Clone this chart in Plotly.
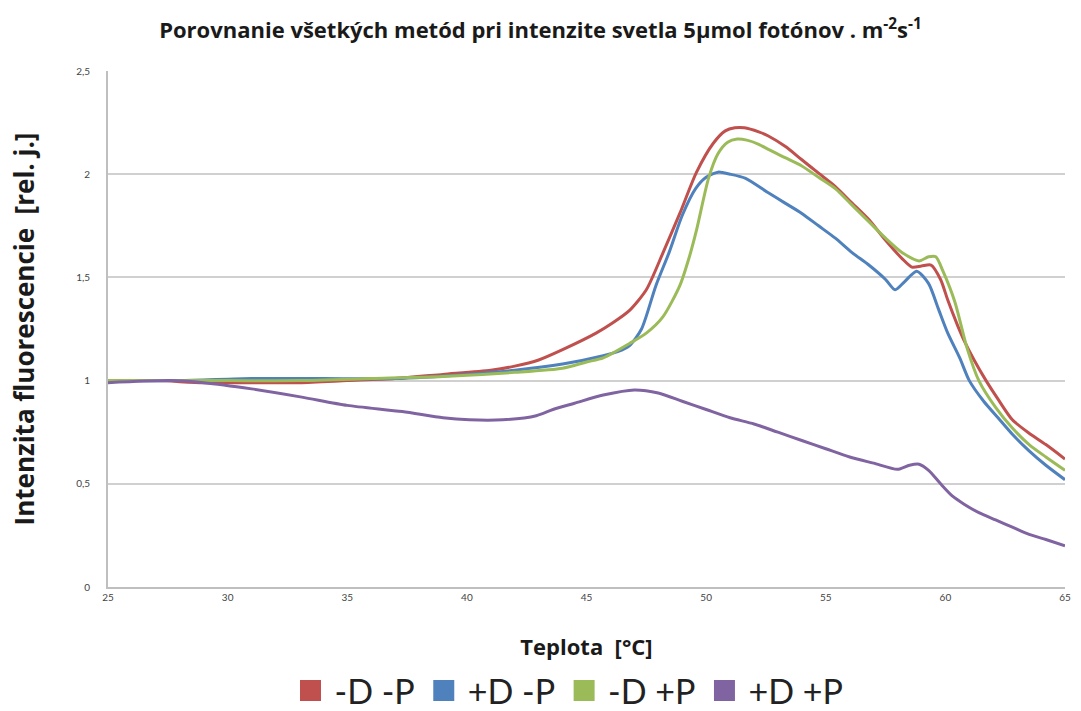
import plotly.graph_objects as go

# Temperature (°C) and relative fluorescence for each treatment
t_dp = [25, 27, 29, 31, 33, 35, 37, 39, 41, 42, 43, 44, 45.4, 46.1, 46.8, 47.5, 48.2, 48.9, 49.6,
        50.3, 50.8, 51.2, 51.6, 52.2, 52.6, 53.3, 54.0, 54.7, 55.4, 56.1, 56.8, 57.5, 58.2, 58.6,
        59.0, 59.4, 59.8, 60.1, 60.5, 60.8, 61.2, 61.7, 62.2, 62.8, 63.5, 64.2, 65.0]
v_dp = [1.0, 1.0, 0.99, 0.99, 0.99, 1.0, 1.01, 1.03, 1.05, 1.07, 1.10, 1.15, 1.23, 1.28, 1.34,
        1.44, 1.62, 1.81, 2.01, 2.15, 2.21, 2.225, 2.225, 2.205, 2.185, 2.135, 2.07, 2.005, 1.94,
        1.86, 1.78, 1.68, 1.59, 1.55, 1.555, 1.56, 1.49, 1.39, 1.27, 1.19, 1.10, 1.0, 0.91, 0.81,
        0.745, 0.69, 0.62]

t_Dp = [25, 28, 31, 34, 37, 40, 42, 44, 45.7, 46.3, 46.8, 47.3, 47.9, 48.45, 49.0, 49.56, 50.0,
        50.5, 51.0, 51.65, 52.6, 53.3, 54.0, 54.7, 55.4, 56.1, 56.8, 57.5, 57.9, 58.3, 58.8, 59.3,
        59.7, 60.1, 60.6, 61.0, 61.6, 62.2, 62.8, 63.5, 64.2, 65.0]
v_Dp = [1.0, 1.0, 1.01, 1.01, 1.01, 1.03, 1.05, 1.08, 1.12, 1.14, 1.17, 1.25, 1.46, 1.62, 1.80,
        1.93, 1.985, 2.01, 2.0, 1.98, 1.91, 1.86, 1.81, 1.75, 1.69, 1.62, 1.56, 1.49, 1.44, 1.48,
        1.53, 1.47, 1.35, 1.23, 1.11, 1.0, 0.90, 0.82, 0.74, 0.66, 0.59, 0.52]

t_dP = [25, 27, 30, 33, 36, 39, 42, 44, 45, 45.7, 46.8, 47.5, 48.2, 48.9, 49.3, 49.6, 50.1, 50.5,
        50.9, 51.3, 51.7, 52.2, 52.6, 53.3, 54.0, 54.7, 55.4, 56.1, 56.8, 57.5, 58.2, 58.9, 59.3,
        59.6, 59.9, 60.4, 60.9, 61.4, 62.1, 62.8, 63.5, 64.2, 65.0]
v_dP = [1.0, 1.0, 1.0, 1.0, 1.01, 1.02, 1.04, 1.06, 1.09, 1.11, 1.18, 1.23, 1.31, 1.46, 1.60,
        1.73, 1.98, 2.10, 2.155, 2.17, 2.165, 2.145, 2.12, 2.08, 2.04, 1.985, 1.93, 1.85, 1.77,
        1.69, 1.62, 1.58, 1.60, 1.60, 1.53, 1.38, 1.16, 1.0, 0.87, 0.77, 0.69, 0.63, 0.565]

t_DP = [25, 27.6, 29, 31, 33.1, 35, 37.3, 39, 40.1, 41.5, 42.9, 43.6, 44.5, 45.7, 47.0, 48, 49, 50,
        51, 52, 53, 54, 55, 56, 57, 58.0, 58.5, 58.9, 59.3, 59.8, 60.3, 60.8, 61.4, 62.1, 62.8,
        63.5, 64.2, 65]
v_DP = [0.99, 1.0, 0.99, 0.96, 0.92, 0.88, 0.85, 0.82, 0.81, 0.81, 0.83, 0.86, 0.89, 0.93, 0.955,
        0.94, 0.90, 0.86, 0.82, 0.79, 0.75, 0.71, 0.67, 0.63, 0.60, 0.57, 0.59, 0.595, 0.565, 0.50,
        0.44, 0.40, 0.36, 0.325, 0.29, 0.255, 0.23, 0.20]

series_names = ["-D -P", "+D -P", "-D +P", "+D +P"]
series_colors = ["#C0504D", "#4F81BD", "#9BBB59", "#8064A2"]
series_data = [(t_dp, v_dp), (t_Dp, v_Dp), (t_dP, v_dP), (t_DP, v_DP)]

x_ticks = [25, 30, 35, 40, 45, 50, 55, 60, 65]
y_ticks = [0, 0.5, 1, 1.5, 2, 2.5]
y_tick_text = ["0", "0,5", "1", "1,5", "2", "2,5"]

fig = go.Figure()
for name, color, (t, v) in zip(series_names, series_colors, series_data):
    fig.add_trace(go.Scatter(x=t, y=v, mode="lines", name=name, showlegend=False,
                             line=dict(color=color, width=3, shape="spline", smoothing=0.7)))
# square legend swatches
for name, color in zip(series_names, series_colors):
    fig.add_trace(go.Scatter(x=[None], y=[None], mode="markers", name=name,
                             marker=dict(symbol="square", size=16, color=color,
                                         line=dict(color=color, width=5))))

title_font = "'Open Sans', Lato, sans-serif"
fig.update_layout(
    width=1081, height=711,
    margin=dict(l=108, r=16, t=71, b=124, autoexpand=False),
    paper_bgcolor="white", plot_bgcolor="white",
    title=dict(text="Porovnanie všetkých metód pri intenzite svetla 5µmol fotónov . m<sup>-2</sup>s<sup>-1</sup>",
               x=0.5, xref="container", y=0.957, yanchor="middle",
               font=dict(family=title_font, size=22, color="#1a1a1a", weight="bold")),
    font=dict(family="Lato, sans-serif"),
    legend=dict(orientation="h", x=0.525, xanchor="center", xref="container",
                y=-0.145, yanchor="top", yref="paper",
                font=dict(family="Lato, sans-serif", size=34, color="#222"),
                itemsizing="trace", itemwidth=38, tracegroupgap=0),
    showlegend=True,
)
fig.update_xaxes(range=[25, 65], tickvals=x_ticks, showgrid=False, zeroline=False,
                 showline=True, linecolor="#BFBFBF", linewidth=2,
                 ticks="", tickfont=dict(size=10, color="#444"),
                 title=dict(text="Teplota  [°C]", standoff=38,
                            font=dict(family=title_font, size=22, color="#1a1a1a", weight="bold")))
fig.update_yaxes(range=[0, 2.5], tickvals=y_ticks, ticktext=y_tick_text,
                 showgrid=True, gridcolor="#D0D0D0", gridwidth=2, zeroline=False,
                 showline=True, linecolor="#BFBFBF", linewidth=2,
                 ticks="", tickfont=dict(size=10, color="#444"), ticklabelstandoff=14,
                 title=dict(text="Intenzita fluorescencie  [rel. j.]", standoff=34,
                            font=dict(family=title_font, size=26, color="#1a1a1a", weight="bold")))

fig.write_html("out.html")
